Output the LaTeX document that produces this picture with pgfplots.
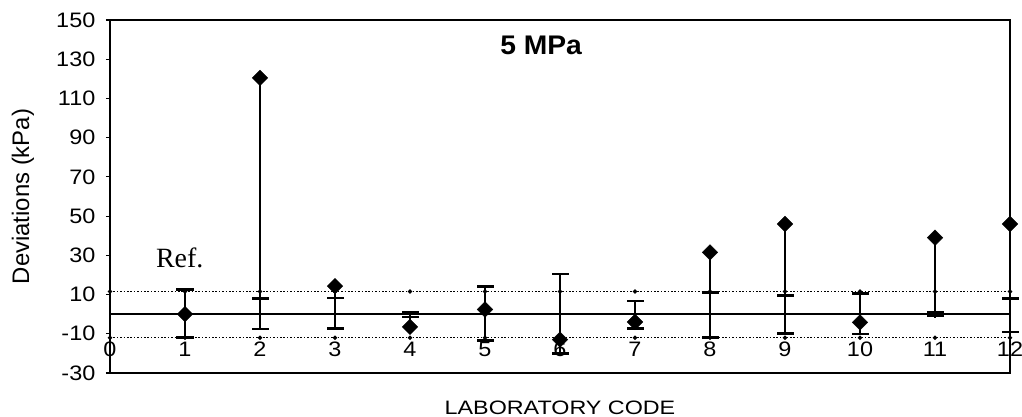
\documentclass[border=0pt]{standalone}
\usepackage{fontspec}
\setmainfont{Liberation Sans}
\newfontfamily\seriffont{Liberation Serif}
\usepackage{pgfplots}
\usepackage{pgfplotstable}
\pgfplotsset{compat=1.18}

% x: laboratory, d: deviation (diamond), top/bot: uncertainty caps
\pgfplotstableread{
x d top bot
1 0 12.5 -12
2 120.5 8 -7.5
3 14.3 8.3 -7.3
4 -6.5 1.2 -1.4
5 2.4 14 -13.5
6 -13 20.4 -20
7 -4 6.8 -7.3
8 31.5 11 -12
9 46 9.5 -10
10 -4.2 10.5 -10.2
11 39 0.8 -0.8
12 46 8 -9
}\labs

\begin{document}
\begin{tikzpicture}
\begin{axis}[
  name=ax,
  scale only axis,
  width=900bp, height=353bp,
  xmin=0, xmax=12, ymin=-30, ymax=150,
  clip=false,
  axis line style={line width=1.5bp, black},
  xtick={0,1,2,3,4,5,6,7,8,9,10,11,12},
  xticklabels={0,1,2,3,4,5,6,7,8,9,10,11,12},
  major x tick style={draw=none},
  xticklabel style={anchor=center, yshift=28bp, font=\fontsize{21}{22}\selectfont, xscale=1.12},
  ytick={-30,-10,10,30,50,70,90,110,130,150},
  yticklabels={-30,-10,10,30,50,70,90,110,130,150},
  ytick pos=left, xtick pos=bottom,
  tick align=outside,
  major tick length=4bp,
  tick style={line width=1.2bp, black},
  yticklabel style={font=\fontsize{21}{22}\selectfont, xscale=1.12, xshift=-6bp},
  xlabel={LABORATORY CODE},
  ylabel={Deviations (kPa)},
  xlabel style={at={(rel axis cs:0.5,-0.0992)}, anchor=center, font=\fontsize{19.5}{20}\selectfont, xscale=1.2},
  ylabel style={at={(rel axis cs:-0.0967,0.5)}, anchor=center, font=\fontsize{24}{26}\selectfont},
]
% reference limits (dotted)
\addplot[black, line width=1.1bp, dash pattern=on 1.6bp off 1.8bp, mark=*, mark size=1.6bp, mark options={solid}]
  coordinates {(0,11.5) (1,11.5) (2,11.5) (3,11.5) (4,11.5) (5,11.5) (6,11.5) (7,11.5) (8,11.5) (9,11.5) (10,11.5) (11,11.5) (12,11.5)};
\addplot[black, line width=1.1bp, dash pattern=on 1.6bp off 1.8bp, mark=*, mark size=1.6bp, mark options={solid}]
  coordinates {(0,-12) (1,-12) (2,-12) (3,-12) (4,-12) (5,-12) (6,-12) (7,-12) (8,-12) (9,-12) (10,-12) (11,-12) (12,-12)};
% zero line
\addplot[black, line width=1.7bp] coordinates {(0,0) (12,0)};
% vertical lines (high-low)
\addplot[black, line width=2.3bp, unbounded coords=jump] coordinates {
  (1,12.5) (1,-12) (1,nan)
  (2,120.5) (2,-7.5) (2,nan)
  (3,14.3) (3,-7.3) (3,nan)
  (4,1.2) (4,-6.5) (4,nan)
  (5,14) (5,-13.5) (5,nan)
  (6,20.4) (6,-20) (6,nan)
  (7,6.8) (7,-7.3) (7,nan)
  (8,31.5) (8,-12.5) (8,nan)
  (9,46) (9,-10) (9,nan)
  (10,10.5) (10,-10.2) (10,nan)
  (11,39) (11,-2) (11,nan)
  (12,46) (12,-9)
};
% uncertainty caps
\addplot[only marks, mark=-, mark size=8.5bp, mark options={line width=2.6bp, black}] table[x=x, y=top] {\labs};
\addplot[only marks, mark=-, mark size=8.5bp, mark options={line width=2.6bp, black}] table[x=x, y=bot] {\labs};
% deviations
\addplot[only marks, mark=square*, mark size=5.5bp, mark options={rotate=45, fill=black, draw=black}]
  table[x=x, y=d] {\labs};
\node[font=\bfseries\fontsize{27}{29}\selectfont, xscale=1.05] at (rel axis cs:0.479,0.927) {5 MPa};
\node[font=\seriffont\fontsize{28}{30}\selectfont] at (axis cs:0.93,28.8) {Ref.};
\end{axis}
\pgfresetboundingbox
\path[use as bounding box] ([shift={(-110bp,-44bp)}]ax.south west) rectangle ([shift={(12bp,20bp)}]ax.north east);
\end{tikzpicture}
\end{document}
